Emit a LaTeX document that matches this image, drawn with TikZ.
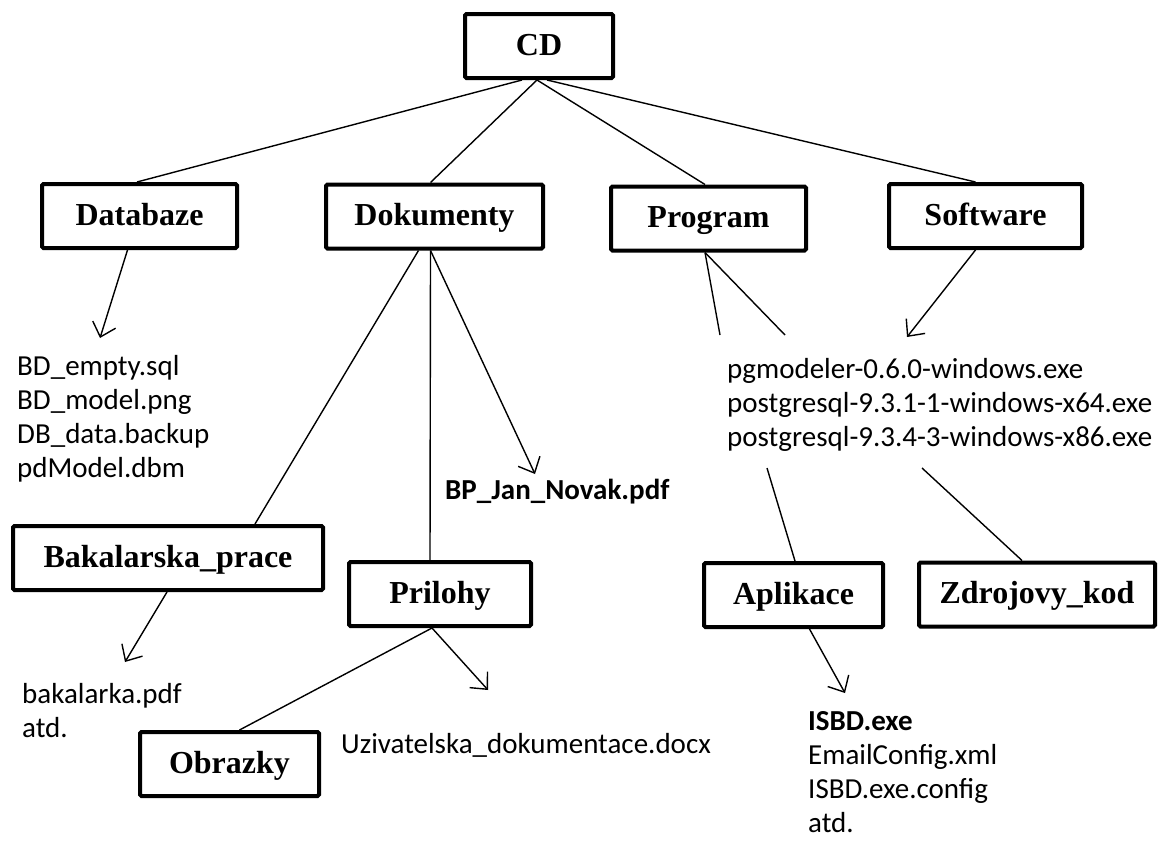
\documentclass[tikz,border=0pt]{standalone}
\usepackage{fontspec}
\setmainfont{Liberation Serif}
\newfontfamily\filefont{Carlito}
\usetikzlibrary{arrows.meta}
\begin{document}
\begin{tikzpicture}[x=1pt,y=-1pt,
  folder/.style={draw, line width=4pt, rounded corners=1.5pt, fill=white,
    inner sep=0pt, minimum height=64pt, text height=24pt, text depth=6pt,
    font=\fontsize{32}{38}\selectfont\bfseries},
  files/.style={inner sep=0pt, anchor=west, align=left,
    font=\filefont\fontsize{29}{34}\selectfont},
  link/.style={line width=1.4pt},
  arr/.style={line width=1.4pt, -{Straight Barb[length=13pt,width=24pt,line width=1.4pt]}}]
\useasboundingbox (0,0) rectangle (1159,846);

% folders
\node[folder, minimum width=148pt] (cd)   at (539,46)    {CD};
\node[folder, minimum width=195pt] (db)   at (139.5,216) {Databaze};
\node[folder, minimum width=217pt] (dok)  at (434.5,216.5) {Dokumenty};
\node[folder, minimum width=195pt] (prog) at (708.5,218.5) {Program};
\node[folder, minimum width=193pt] (soft) at (985.5,216) {Software};
\node[folder, minimum width=310pt] (bak)  at (168,558)   {Bakalarska\_prace};
\node[folder, minimum width=182pt] (pril) at (440,594)   {Prilohy};
\node[folder, minimum width=179pt] (apl)  at (793.5,595) {Aplikace};
\node[folder, minimum width=236pt] (zdr)  at (1037,594.5) {Zdrojovy\_kod};
\node[folder, minimum width=179pt] (obr)  at (229.5,764) {Obrazky};

% file lists
\node[files] (dbfiles) at (17,419)
  {BD\_empty.sql\\BD\_model.png\\DB\_data.backup\\pdModel.dbm};
\node[files] (bp) at (445,492) {\bfseries BP\_Jan\_Novak.pdf};
\node[files] (swfiles) at (727,405)
  {pgmodeler-0.6.0-windows.exe\\postgresql-9.3.1-1-windows-x64.exe\\postgresql-9.3.4-3-windows-x86.exe};
\node[files] (bakfiles) at (22,711) {bakalarka.pdf\\atd.};
\node[files] (uziv) at (341,745) {Uzivatelska\_dokumentace.docx};
\node[files] (aplfiles) at (808,772)
  {\bfseries ISBD.exe\\EmailConfig.xml\\ISBD.exe.config\\atd.};

% free ends of connectors
\coordinate (dbtip)   at (100,338);
\coordinate (bptip)   at (535,474);
\coordinate (swtip)   at (907,337);
\coordinate (baktip)  at (125,662);
\coordinate (uztip)   at (488,690);
\coordinate (apltip)  at (845,693);
\coordinate (pgA)     at (720,335);
\coordinate (pgB)     at (785,335);
\coordinate (pgC)     at (767,468);
\coordinate (pgD)     at (922,468);

% tree connectors
\draw[link] ([xshift=-17pt]cd.south) -- ([xshift=-2.5pt]db.north);
\draw[link] ([xshift=-2pt]cd.south) -- ([xshift=-4pt]dok.north);
\draw[link] ([xshift=-2pt]cd.south) -- ([xshift=-3.5pt]prog.north);
\draw[link] ([xshift=8pt]cd.south) -- ([xshift=-10pt]soft.north);

\draw[arr] ([xshift=-12pt]db.south) -- (dbtip);
\draw[link] ([xshift=-16pt]dok.south) -- ([xshift=87pt]bak.north);
\draw[link] ([xshift=-4pt]dok.south) -- ([xshift=-10pt]pril.north);
\draw[arr] ([xshift=-4pt]dok.south) -- (bptip);

\draw[link] ([xshift=-3.5pt]prog.south) -- (pgA);
\draw[link] ([xshift=-3.5pt]prog.south) -- (pgB);
\draw[arr] ([xshift=-10pt]soft.south) -- (swtip);
\draw[link] (pgC) -- ([xshift=1.5pt]apl.north);
\draw[link] (pgD) -- ([xshift=-15pt]zdr.north);

\draw[arr] ([xshift=-1pt]bak.south) -- (baktip);
\draw[link] ([xshift=-8pt]pril.south) -- ([xshift=10pt]obr.north);
\draw[arr] ([xshift=-8pt]pril.south) -- (uztip);
\draw[arr] ([xshift=16pt]apl.south) -- (apltip);
\end{tikzpicture}
\end{document}
